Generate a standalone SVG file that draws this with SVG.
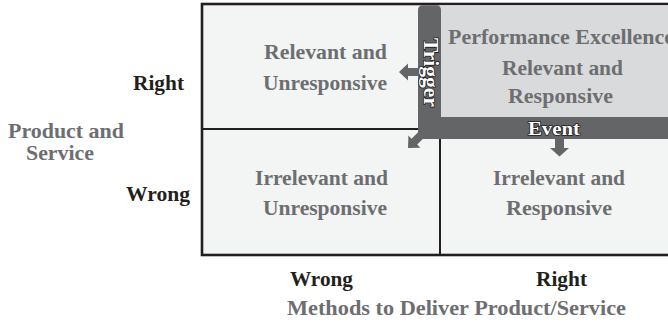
<svg xmlns="http://www.w3.org/2000/svg" width="668" height="325" viewBox="0 0 668 325">
<style>
text { font-family: "Liberation Serif", "Times New Roman", serif; font-weight: bold; font-size: 21px; }
.cell { fill: #f3f4f4; }
.hi { fill: #d9dadb; }
.ctext { fill: #6d6e71; }
.axis { fill: #231f20; }
.grid { fill: none; stroke: #231f20; }
.band { fill: #646567; }
.btext { fill: #ffffff; stroke: #1e1e1e; stroke-width: 1.6px; paint-order: stroke fill; stroke-linejoin: round; }
</style>
<rect width="668" height="325" fill="#ffffff"/>

<g id="cell-top-left">
  <rect class="cell" x="202" y="4" width="238" height="125"/>
  <text class="ctext" x="264" y="59" textLength="123" lengthAdjust="spacingAndGlyphs">Relevant and</text>
  <text class="ctext" x="263" y="90" textLength="124" lengthAdjust="spacingAndGlyphs">Unresponsive</text>
</g>
<g id="cell-bottom-left">
  <rect class="cell" x="202" y="129" width="238" height="126"/>
  <text class="ctext" x="255" y="185" textLength="133" lengthAdjust="spacingAndGlyphs">Irrelevant and</text>
  <text class="ctext" x="263" y="215" textLength="124" lengthAdjust="spacingAndGlyphs">Unresponsive</text>
</g>
<g id="cell-bottom-right">
  <rect class="cell" x="440" y="129" width="240" height="126"/>
  <text class="ctext" x="493" y="185" textLength="132" lengthAdjust="spacingAndGlyphs">Irrelevant and</text>
  <text class="ctext" x="506" y="215" textLength="106" lengthAdjust="spacingAndGlyphs">Responsive</text>
</g>
<g id="cell-top-right">
  <rect class="cell" x="440" y="4" width="240" height="125"/>
</g>

<g id="grid-lines">
  <rect class="grid" x="202" y="4" width="480" height="251" stroke-width="2.6"/>
  <line class="grid" x1="202" y1="129" x2="420" y2="129" stroke-width="2"/>
  <line class="grid" x1="440" y1="138" x2="440" y2="255" stroke-width="2"/>
</g>

<g id="performance-excellence">
  <rect class="hi" x="440" y="5.3" width="240" height="112"/>
  <text class="ctext" x="448" y="44" textLength="226" lengthAdjust="spacingAndGlyphs">Performance Excellence</text>
  <text class="ctext" x="502" y="75" textLength="121" lengthAdjust="spacingAndGlyphs">Relevant and</text>
  <text class="ctext" x="508" y="103" textLength="105" lengthAdjust="spacingAndGlyphs">Responsive</text>
</g>

<g id="trigger-event-band">
  <path class="band" d="M418,139 L418,10 Q418,5.3 423,5.3 L436,5.3 Q441,5.3 441,10 L441,117 L680,117 L680,139 Z"/>
  <text class="btext" transform="translate(424,38) rotate(90)" x="0" y="0" textLength="69" lengthAdjust="spacingAndGlyphs" style="font-size:20px">Trigger</text>
  <text class="btext" x="528" y="135" textLength="52" lengthAdjust="spacingAndGlyphs" style="font-size:19px">Event</text>
</g>

<g id="connectors">
  <polygon class="band" points="419,68 408,68 408,63.5 399,72 408,80.5 408,76 419,76"/>
  <polygon class="band" points="424.3,137.4 417.2,144.5 420.4,147.7 408,148 408.4,135.6 411.5,138.8 418.6,131.7"/>
  <polygon class="band" points="555,138 564,138 564,148 569,148 559.5,156.5 550,148 555,148"/>
</g>

<g id="axis-product">
  <text class="axis" x="133" y="90" textLength="51" lengthAdjust="spacingAndGlyphs">Right</text>
  <text class="ctext" x="8" y="138" textLength="116" lengthAdjust="spacingAndGlyphs">Product and</text>
  <text class="ctext" x="26" y="160" textLength="68" lengthAdjust="spacingAndGlyphs">Service</text>
  <text class="axis" x="126" y="201" textLength="64" lengthAdjust="spacingAndGlyphs">Wrong</text>
</g>

<g id="axis-methods">
  <text class="axis" x="290" y="286" textLength="63" lengthAdjust="spacingAndGlyphs">Wrong</text>
  <text class="axis" x="536" y="286" textLength="51" lengthAdjust="spacingAndGlyphs">Right</text>
  <text class="ctext" x="287" y="315" textLength="339" lengthAdjust="spacingAndGlyphs">Methods to Deliver Product/Service</text>
</g>
</svg>
